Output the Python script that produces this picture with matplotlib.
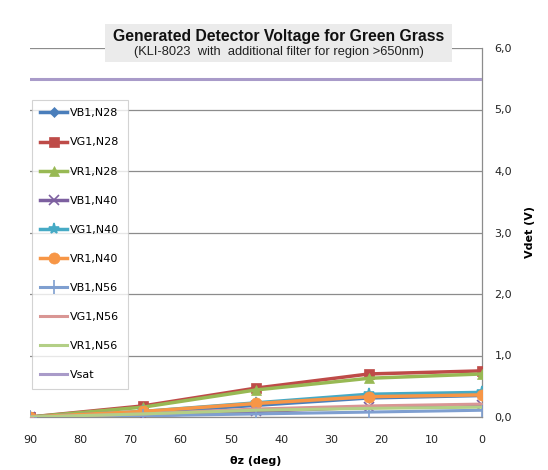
import matplotlib
matplotlib.use("Agg")
import matplotlib.pyplot as plt
from matplotlib.ticker import FuncFormatter, MultipleLocator

# Zenith angle (deg) and detector voltages (V)
theta = [90, 67.5, 45, 22.5, 0]
vb1_n28 = [0.0, 0.07, 0.19, 0.31, 0.35]
vg1_n28 = [0.0, 0.18, 0.47, 0.70, 0.75]
vr1_n28 = [0.0, 0.16, 0.44, 0.63, 0.70]
vb1_n40 = [0.0, 0.02, 0.09, 0.16, 0.19]
vg1_n40 = [0.0, 0.09, 0.23, 0.37, 0.40]
vr1_n40 = [0.0, 0.09, 0.22, 0.33, 0.36]
vb1_n56 = [0.0, 0.02, 0.05, 0.08, 0.11]
vg1_n56 = [0.0, 0.05, 0.13, 0.18, 0.21]
vr1_n56 = [0.0, 0.05, 0.11, 0.14, 0.16]
vsat = [5.5, 5.5, 5.5, 5.5, 5.5]

labels = ["VB1,N28", "VG1,N28", "VR1,N28", "VB1,N40", "VG1,N40",
          "VR1,N40", "VB1,N56", "VG1,N56", "VR1,N56", "Vsat"]
series = [vb1_n28, vg1_n28, vr1_n28, vb1_n40, vg1_n40,
          vr1_n40, vb1_n56, vg1_n56, vr1_n56, vsat]
colors = ["#4A7EBB", "#BE4B48", "#98B954", "#7D60A0", "#46AAC5",
          "#F79646", "#7F9FD0", "#D99694", "#B3CF86", "#A99BC9"]
markers = ["D", "s", "^", "x", "*", "o", "+", "_", None, None]
msizes = [5, 7, 7, 7, 8, 8, 10, 6, 0, 0]
lwidths = [2.5, 2.5, 2.5, 2.5, 2.5, 2.5, 2.2, 2.2, 2.2, 2.2]

plt.rcParams["font.family"] = ["DejaVu Sans"]

fig = plt.figure(figsize=(5.48, 4.70), dpi=100)
ax = fig.add_axes([30 / 548, 53 / 470, 452 / 548, 369 / 470])

# later series are drawn on top of earlier ones
handles = []
for i in range(10):
    ln, = ax.plot(theta, series[i], color=colors[i], lw=lwidths[i],
                  marker=markers[i], markersize=msizes[i],
                  markeredgewidth=1.2 if markers[i] in ("x", "+", "*", "_") else 0.5,
                  markeredgecolor=colors[i], label=labels[i], zorder=3 + i * 0.1)
    handles.append(ln)

ax.set_xlim(90, 0)
ax.set_ylim(0, 6)
ax.xaxis.set_major_locator(MultipleLocator(10))
ax.yaxis.set_major_locator(MultipleLocator(1))
ax.yaxis.tick_right()
ax.yaxis.set_label_position("right")
ax.yaxis.set_major_formatter(FuncFormatter(lambda v, p: f"{v:.1f}".replace(".", ",")))
ax.tick_params(axis="both", length=0, labelsize=8, colors="#222222")
ax.tick_params(axis="x", pad=13)
ax.tick_params(axis="y", pad=9)
ax.grid(axis="y", color="#8C8C8C", lw=0.9)
ax.set_axisbelow(True)
for s in ("top", "left"):
    ax.spines[s].set_visible(False)
for s in ("right", "bottom"):
    ax.spines[s].set_color("#8C8C8C")
    ax.spines[s].set_linewidth(0.9)

ax.set_xlabel("θz (deg)", fontsize=8, fontweight="bold", labelpad=8)
ax.set_ylabel("Vdet (V)", fontsize=8, fontweight="bold", labelpad=9)

leg = ax.legend(handles, labels,
                loc="upper left", bbox_to_anchor=(2 / 452, 317 / 369),
                frameon=True, fancybox=False, fontsize=8,
                labelspacing=1.72, handlelength=2.4, handletextpad=0.3,
                borderpad=0.75, borderaxespad=0.0)
leg.get_frame().set_edgecolor("#C8C8C8")
leg.get_frame().set_linewidth(0.8)

fig.text(279 / 548, 1 - 37 / 470, "Generated Detector Voltage for Green Grass",
         ha="center", va="center", fontsize=11.3, fontweight="bold",
         family="Liberation Sans", color="#111111")
fig.text(279 / 548, 1 - 52 / 470, "(KLI-8023  with  additional filter for region >650nm)",
         ha="center", va="center", fontsize=9.3, family="Liberation Sans",
         color="#222222")
fig.patches.append(plt.Rectangle((105 / 548, 1 - 62 / 470), 347 / 548, 38 / 470,
                                 transform=fig.transFigure, facecolor="#EBEBEB",
                                 edgecolor="none", zorder=0.5))
for t in fig.texts:
    t.set_zorder(1)
ax.set_zorder(0)
ax.patch.set_visible(False)

fig.savefig("out.png", dpi=100, facecolor="white")
